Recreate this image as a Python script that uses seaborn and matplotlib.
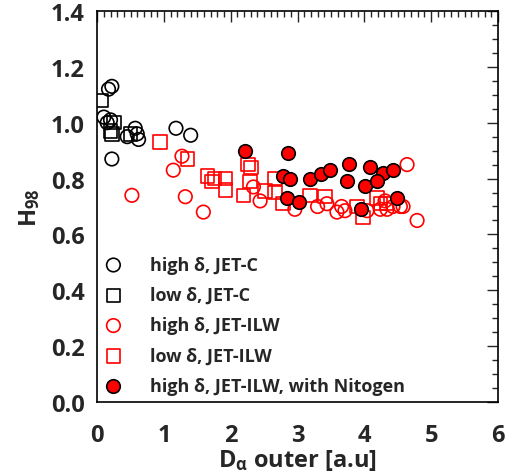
"""
H98 vs D-alpha outer, JET-C / JET-ILW comparison
"""
import numpy as np
import pandas as pd
import matplotlib
matplotlib.use('Agg')
import matplotlib.pyplot as plt
from matplotlib.ticker import MultipleLocator
import seaborn as sns

# Data
jetc_high_x = [0.10, 0.15, 0.20, 0.17, 0.22, 0.22, 0.57, 0.60, 0.45, 0.62, 1.18, 1.40]
jetc_high_y = [1.02, 1.00, 1.01, 1.12, 1.13, 0.87, 0.98, 0.96, 0.95, 0.94, 0.98, 0.955]

jetc_low_x = [0.06, 0.20, 0.22, 0.25, 0.50]
jetc_low_y = [1.08, 0.97, 0.96, 1.00, 0.96]

ilw_high_x = [0.52, 1.14, 1.27, 1.32, 1.59, 2.34, 2.44, 2.96, 4.64, 4.79, 3.44, 3.59,
              3.66, 3.71, 4.04, 4.24, 4.34, 4.43, 4.54, 4.58, 4.31, 3.30]
ilw_high_y = [0.74, 0.83, 0.88, 0.735, 0.68, 0.77, 0.72, 0.69, 0.85, 0.65, 0.71, 0.68,
              0.70, 0.685, 0.685, 0.69, 0.69, 0.70, 0.70, 0.70, 0.72, 0.70]

ilw_low_x = [0.94, 1.35, 1.65, 1.72, 1.76, 1.92, 1.92, 2.26, 2.30, 2.29, 2.19, 2.51,
             2.66, 2.66, 2.78, 3.19, 3.41, 3.89, 3.98, 4.19, 4.24, 4.33]
ilw_low_y = [0.93, 0.87, 0.81, 0.79, 0.80, 0.80, 0.76, 0.85, 0.84, 0.79, 0.74, 0.756,
             0.75, 0.80, 0.71, 0.74, 0.735, 0.70, 0.66, 0.73, 0.71, 0.71]

n2_x = [2.22, 2.86, 2.78, 2.89, 2.84, 3.02, 3.19, 3.35, 3.49, 3.77, 3.74, 4.09,
        4.28, 4.43, 4.01, 4.19, 4.49, 3.95]
n2_y = [0.90, 0.89, 0.81, 0.80, 0.73, 0.717, 0.80, 0.817, 0.83, 0.853, 0.79, 0.84,
        0.82, 0.83, 0.775, 0.79, 0.73, 0.69]

labels = ['high δ, JET-C', 'low δ, JET-C', 'high δ, JET-ILW', 'low δ, JET-ILW',
          'high δ, JET-ILW, with Nitogen']

sns.set_style('white')
plt.rcParams['font.family'] = ['Open Sans', 'DejaVu Sans']
plt.rcParams['font.weight'] = 'bold'
plt.rcParams['mathtext.fontset'] = 'custom'
plt.rcParams['mathtext.rm'] = 'Open Sans:bold'
plt.rcParams['mathtext.it'] = 'Open Sans:bold'
plt.rcParams['mathtext.bf'] = 'Open Sans:bold'

fig = plt.figure(figsize=(5.06, 4.77), dpi=100)
ax = fig.add_axes([0.192, 0.155, 0.792, 0.82])

groups = [
    (jetc_high_x, jetc_high_y, 'o', 'none', 'black', labels[0]),
    (jetc_low_x, jetc_low_y, 's', 'none', 'black', labels[1]),
    (ilw_high_x, ilw_high_y, 'o', 'none', 'red', labels[2]),
    (ilw_low_x, ilw_low_y, 's', 'none', 'red', labels[3]),
    (n2_x, n2_y, 'o', 'red', 'black', labels[4]),
]

for gx, gy, mk, fc, ec, lab in groups:
    df = pd.DataFrame({'x': gx, 'y': gy})
    sns.scatterplot(data=df, x='x', y='y', marker=mk, s=95, facecolors=fc,
                    edgecolors=ec, linewidth=1.2, label=lab, ax=ax, zorder=3)

ax.set_xlim(0, 6)
ax.set_ylim(0, 1.4)
ax.xaxis.set_major_locator(MultipleLocator(1))
ax.xaxis.set_minor_locator(MultipleLocator(0.1))
ax.yaxis.set_major_locator(MultipleLocator(0.2))
ax.yaxis.set_minor_locator(MultipleLocator(0.05))
ax.set_yticklabels([f'{v:.1f}' for v in ax.get_yticks()])
ax.tick_params(which='both', direction='in', top=True, right=True, width=1)
ax.tick_params(which='major', length=8, labelsize=17)
ax.tick_params(axis='x', which='major', pad=15)
ax.tick_params(axis='y', which='major', pad=9)
ax.tick_params(which='minor', length=4)
for sp in ax.spines.values():
    sp.set_linewidth(1.2)
    sp.set_color('black')

ax.set_xlabel(r'D$_{\alpha}$ outer [a.u]', fontsize=17, fontweight='bold', labelpad=0)
ax.set_ylabel(r'H$_{98}$', fontsize=17, fontweight='bold', labelpad=6)

leg = ax.legend(loc='lower left', frameon=False, fontsize=13, handlelength=1.0,
                handletextpad=1.5, labelspacing=0.68, borderpad=0.3,
                borderaxespad=0.1, markerscale=1.0)

fig.savefig('out.png', dpi=100)
